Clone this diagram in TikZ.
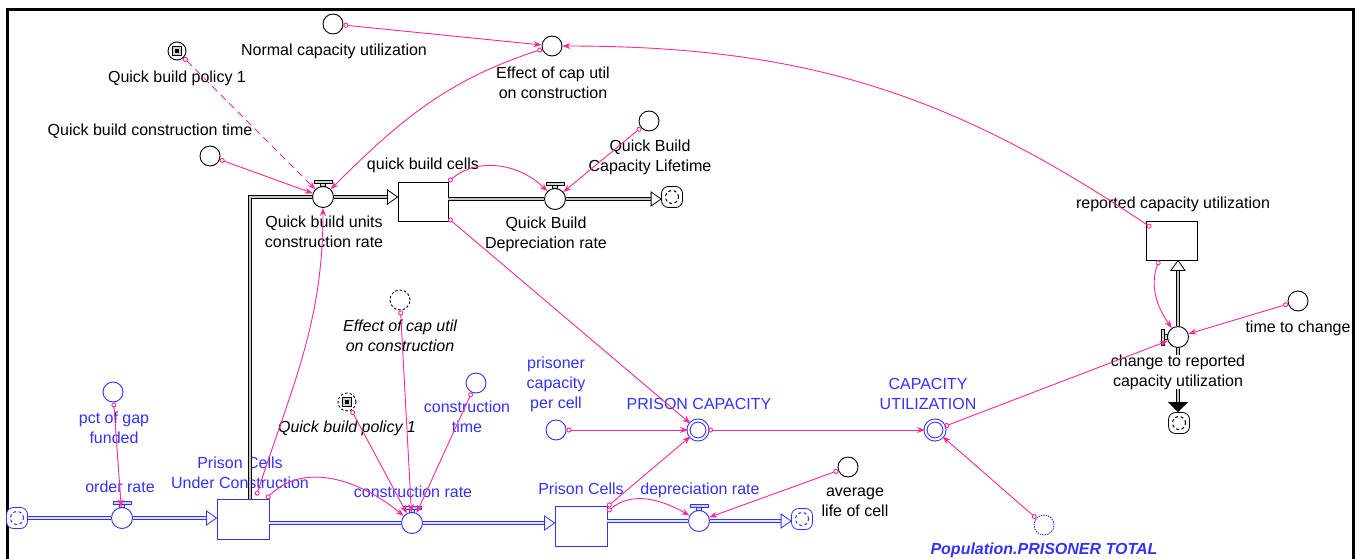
\documentclass[tikz,border=0pt]{standalone}
\usepackage{fontspec}
\setmainfont{Liberation Sans}
\usetikzlibrary{arrows.meta,calc}
\definecolor{pinkc}{RGB}{255,40,150}
\definecolor{bluec}{RGB}{50,50,255}
\newcommand\labfont{\fontsize{16}{20}\selectfont}
\newcommand\valvetop[2]{%
  \draw[draw=#2, fill=gray!35, line width=0.8pt] ($(#1.north)+(-2.5,0)$) rectangle ($(#1.north)+(2.5,3)$);
  \draw[draw=#2, fill=gray!35, line width=0.8pt] ($(#1.north)+(-9,3)$) rectangle ($(#1.north)+(9,6)$);}
\newcommand\tipright[2]{%
  \draw[draw=#2, fill=white, line width=0.8pt] (#1) -- ++(-10,7) -- ++(0,-14) -- cycle;}
\newcommand\tipup[2]{%
  \draw[draw=#2, fill=white, line width=0.8pt] (#1) -- ++(-7,-10) -- ++(14,0) -- cycle;}
\newcommand\iconsq[1]{%
  \draw[line width=1.3pt, fill=gray!40] ($(#1)+(-4.5,-4.5)$) rectangle ($(#1)+(4.5,4.5)$);
  \fill ($(#1)+(-1.6,-1.6)$) rectangle ($(#1)+(1.6,1.6)$);}
\begin{document}
\begin{tikzpicture}[x=1pt,y=1pt,
  aux/.style={circle, draw, fill=white, minimum size=20pt, inner sep=0pt, line width=0.9pt},
  ghost/.style={aux, dashed, dash pattern=on 2.5pt off 2pt},
  valve/.style={aux, minimum size=21pt},
  dbl/.style={circle, draw=bluec, double=white, double distance=2pt, line width=1pt, minimum size=19pt, inner sep=0pt},
  stock/.style={rectangle, draw, fill=white, minimum width=50pt, minimum height=39pt, inner sep=0pt, line width=0.9pt},
  cloudn/.style={rectangle, rounded corners=7pt, draw, fill=white, minimum size=21pt, inner sep=0pt, line width=0.8pt},
  cloudmark/.style={dash pattern=on 3pt off 2.5pt, line width=1pt},
  lab/.style={font=\labfont, align=center, inner sep=0pt},
  blab/.style={lab, text=bluec},
  pipe/.style={double=gray!45, double distance=2.6pt, line width=0.8pt},
  bpipe/.style={draw=bluec, double=bluec!15, double distance=2.6pt, line width=0.9pt},
  conn/.style={draw=pinkc, line width=0.9pt, {Circle[open,length=5pt,width=5pt]}-{Stealth[length=8pt,width=6pt]}}
]
\useasboundingbox (0,0) rectangle (1362,-559);
\draw[line width=3pt] (7,-559) -- (7,-10) -- (1353,-10) -- (1353,-559);

% ---------- top model ----------
\node[aux] (ncu) at (333,-24) {};
\node[lab] (ncul) at (334,-51) {Normal capacity utilization};
\node[aux, minimum size=18pt] (qbp1) at (177,-51) {};
\iconsq{qbp1}
\node[lab] (qbp1l) at (177,-78) {Quick build policy 1};
\node[aux] (qbct) at (210,-156) {};
\node[lab] (qbctl) at (150,-131) {Quick build construction time};
\node[aux] (eff) at (552,-46) {};
\node[lab] (effl) at (553,-83) {Effect of cap util\\on construction};
\node[valve] (qbu) at (323,-197) {};
\node[lab] (qbul) at (324,-232) {Quick build units\\construction rate};
\node[stock] (qbc) at (423,-201.5) {};
\node[lab] (qbcl) at (423,-165) {quick build cells};
\node[valve] (qbd) at (555,-199) {};
\node[lab] (qbdl) at (546,-234) {Quick Build\\Depreciation rate};
\node[aux] (qblt) at (649,-121) {};
\node[lab] (qbltl) at (650,-157) {Quick Build\\Capacity Lifetime};
\node[cloudn] (cl1) at (672,-197) {};
\draw[cloudmark] (cl1) circle (6.5pt);
\node[stock, minimum width=51pt] (rcu) at (1172,-240.5) {};
\node[lab] (rcul) at (1173,-204) {reported capacity utilization};
\node[valve] (cr) at (1178,-337) {};
\node[cloudn] (cl2) at (1179,-423) {};
\draw[cloudmark] (cl2) circle (6.5pt);
\node[aux] (ttc) at (1298,-301) {};
\node[lab] (ttcl) at (1298,-328) {time to change};

% ---------- bottom model ----------
\node[cloudn, draw=bluec] (cl3) at (17,-518) {};
\draw[cloudmark, bluec] (cl3) circle (6.5pt);
\node[valve, draw=bluec] (orr) at (122,-518) {};
\node[blab] (orrl) at (120,-487) {order rate};
\node[aux, draw=bluec] (pct) at (113,-392) {};
\node[blab] (pctl) at (114,-427.5) {pct of gap\\funded};
\node[stock, draw=bluec, minimum width=52pt, minimum height=40pt] (pcuc) at (243,-519) {};
\node[blab] (pcucl) at (240,-472.5) {Prison Cells\\Under Construction};
\node[valve, draw=bluec] (cnr) at (412,-523) {};
\node[blab] (cnrl) at (413,-492) {construction rate};
\node[ghost] (effg) at (400,-300) {};
\node[lab, font=\labfont\itshape] (effgl) at (400,-336) {Effect of cap util\\on construction};
\node[ghost, minimum size=18pt] (qbpg) at (347,-402) {};
\iconsq{qbpg}
\node[lab, font=\labfont\itshape] (qbpgl) at (347,-428) {Quick build policy 1};
\node[aux, draw=bluec] (ct) at (476,-383) {};
\node[blab] (ctl) at (467,-417) {construction\\time};
\node[stock, draw=bluec, minimum width=52pt, minimum height=40pt] (pc) at (581,-526) {};
\node[blab] (pcl) at (581,-489) {Prison Cells};
\node[valve, draw=bluec] (dr) at (699,-521) {};
\node[blab] (drl) at (700,-490) {depreciation rate};
\node[aux] (alc) at (848,-467) {};
\node[lab] (alcl) at (855,-502) {average\\life of cell};
\node[cloudn, draw=bluec] (cl4) at (802,-519) {};
\draw[cloudmark, bluec] (cl4) circle (6.5pt);
\node[aux, draw=bluec] (pcpc) at (556,-430) {};
\node[blab] (pcpcl) at (556,-384) {prisoner\\capacity\\per cell};
\node[dbl] (pcap) at (698,-430) {};
\node[blab] (pcapl) at (699,-404) {PRISON CAPACITY};
\node[dbl] (cu) at (935,-430) {};
\node[blab] (cul) at (928,-394) {CAPACITY\\UTILIZATION};
\node[ghost, draw=bluec, dash pattern=on 1.5pt off 1pt] (ptot) at (1044,-525) {};
\node[blab, font=\labfont\bfseries\itshape] (ptotl) at (1044,-550) {Population.PRISONER TOTAL};

% ---------- pipes ----------
\coordinate (t1) at (orr -| pcuc.west);
\draw[bpipe] (cl3) -- (orr) -- ($(t1)+(-10,0)$);
\tipright{t1}{bluec}
\coordinate (t2) at (cnr -| pc.west);
\draw[bpipe] (pcuc.east |- cnr) -- (cnr) -- ($(t2)+(-10,0)$);
\tipright{t2}{bluec}
\coordinate (t3) at (dr -| cl4.west);
\draw[bpipe] (pc.east |- dr) -- (dr) -- ($(t3)+(-10,0)$);
\tipright{t3}{bluec}
\coordinate (pk) at ($(pcuc.north)+(7,0)$);
\draw[pipe] (pk) |- (qbu);
\coordinate (t4) at (qbu -| qbc.west);
\draw[pipe] (qbu) -- ($(t4)+(-10,0)$);
\tipright{t4}{black}
\coordinate (t5) at (qbd -| cl1.west);
\draw[pipe] (qbc.east |- qbd) -- (qbd) -- ($(t5)+(-10,0)$);
\tipright{t5}{black}
\coordinate (t6) at (cr |- rcu.south);
\coordinate (t7) at (cr |- cl2.north);
\draw[pipe] (cr) -- ($(t6)+(0,-10)$);
\tipup{t6}{black}
\draw[pipe] (cr) -- ($(t7)+(0,9)$);
\fill (t7) -- ++(-10,10) -- ++(20,0) -- cycle;
\node[lab, fill=white] (crl) at (1178,-372) {change to reported\\capacity utilization};

% ---------- valve bars ----------
\valvetop{qbu}{black}
\valvetop{qbd}{black}
\valvetop{orr}{bluec}
\valvetop{cnr}{bluec}
\valvetop{dr}{bluec}
\draw[fill=gray!35, line width=0.8pt] ($(cr.west)+(-3,-2.5)$) rectangle ($(cr.west)+(0,2.5)$);
\draw[fill=gray!35, line width=0.8pt] ($(cr.west)+(-6,-8)$) rectangle ($(cr.west)+(-3,8)$);

% ---------- connectors ----------
\draw[conn] (ncu) -- (eff);
\draw[conn] ($(rcu.north west)+(5,-7)$) to[out=146,in=0] (eff);
\draw[conn] (eff) to[out=198,in=45] (qbu);
\draw[conn, dashed, dash pattern=on 7pt off 5pt] (qbp1) -- (qbu);
\draw[conn] (qbct) -- (qbu);
\draw[conn] ($(pcuc.north east)+(-13,3)$) to[out=72,in=-90] (qbu);
\draw[conn] (qbc.north east) to[out=40,in=135] (qbd);
\draw[conn] (qblt) -- (qbd);
\draw[conn] ($(qbc.south east)+(0,3)$) -- (pcap);
\draw[conn] (pct) -- (orr);
\draw[conn] ($(pcuc.north east)+(-3,0)$) to[out=45,in=140] (cnr);
\draw[conn] (effg) -- (cnr);
\draw[conn] (qbpg) -- (cnr);
\draw[conn] (ct) -- (cnr);
\draw[conn] (pcpc) -- (pcap);
\draw[conn] ($(pc.north east)+(0,-1)$) -- (pcap);
\draw[conn] ($(pc.north east)+(0,-6)$) to[out=40,in=150] (dr);
\draw[conn] (alc) -- (dr);
\draw[conn] (pcap) -- (cu);
\draw[conn] (ptot) -- (cu);
\draw[conn] (cu) -- (cr);
\draw[conn] ($(rcu.south)+(-13,0)$) to[out=-110,in=125] (cr);
\draw[conn] (ttc) -- (cr);
\end{tikzpicture}
\end{document}
